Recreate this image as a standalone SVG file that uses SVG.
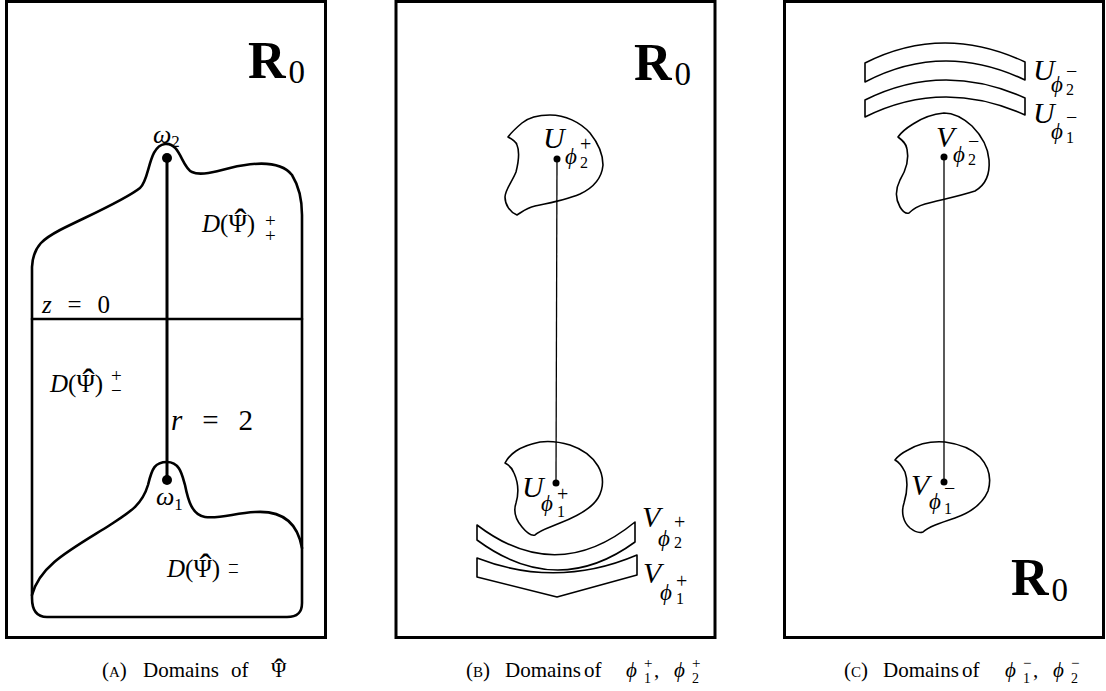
<svg xmlns="http://www.w3.org/2000/svg" width="1106" height="691" viewBox="0 0 1106 691">
<style>
.frame{fill:none;stroke:#000;stroke-width:3}
.thick{fill:none;stroke:#000;stroke-width:2.6;stroke-linejoin:round;stroke-linecap:round}
.thin{fill:none;stroke:#000;stroke-width:1.6;stroke-linejoin:round}
.m{font-family:"Liberation Serif","DejaVu Serif",serif;fill:#000}
.i{font-style:italic}
.R{font-weight:bold;font-size:52px}
.hat{font-size:36px}
.ph{font-style:italic;font-size:23px}
</style>
<rect width="1106" height="691" fill="#fff"/>
<!-- Panel A -->
<g id="panelA">
<rect class="frame" x="6.5" y="1.5" width="319" height="636"/>
<text class="m R" x="248" y="78">R<tspan font-weight="normal" font-size="33" dx="3" dy="5">0</tspan></text>
<g id="domainA">
<path class="thick" d="M302,215 L302,603 C302,613 297,617 287,617 L47,617 C37,617 32,610 32,598 L32,267 C33,245 45,238 60,230 C90,215 125,200 140,188 C150,180 148,146 165,144 C180,142 182,168 192,172 C200,176 215,172 230,168 C255,162 280,160 292,175 C300,188 302,200 302,215 Z"/>
<path class="thick" d="M32,319 L302,319"/>
<path class="thick" d="M32,595 C40,565 70,550 110,525 C130,512 142,505 148,485 C152,468 155,462 167,462 C180,462 182,475 185,485 C188,500 192,515 205,517 C220,519 235,513 255,512 C285,510 298,525 302,548"/>
</g>
<g id="w2"><circle cx="167" cy="158" r="5"/><text class="m" x="153" y="143" font-size="26"><tspan class="i">ω</tspan><tspan font-size="17" dy="4">2</tspan></text></g>
<g id="w1"><circle cx="167" cy="480" r="5"/><text class="m" x="156" y="505" font-size="26"><tspan class="i">ω</tspan><tspan font-size="17" dy="5">1</tspan></text></g>
<text class="m" x="42" y="313" font-size="25" textLength="68" lengthAdjust="spacing"><tspan class="i">z</tspan> = 0</text>
<text class="m" x="171" y="430" font-size="29" textLength="82" lengthAdjust="spacing"><tspan class="i">r</tspan> = 2</text>
<g id="Dpp">
<text class="m" x="202" y="232" font-size="25"><tspan class="i">D</tspan>(Ψ)<tspan class="hat" x="234.5" y="234">ˆ</tspan><tspan font-size="19" x="265" y="227">+</tspan><tspan font-size="19" x="265" y="242">+</tspan></text>
</g>
<g id="Dpm">
<text class="m" x="50" y="392" font-size="25"><tspan class="i">D</tspan>(Ψ)<tspan class="hat" x="82.5" y="394">ˆ</tspan><tspan font-size="19" x="111" y="382">+</tspan><tspan font-size="19" x="111" y="397">−</tspan></text>
</g>
<g id="Dmm">
<text class="m" x="167" y="577" font-size="25"><tspan class="i">D</tspan>(Ψ)<tspan class="hat" x="199.5" y="579">ˆ</tspan><tspan font-size="19" x="228" y="571">−</tspan><tspan font-size="19" x="228" y="579">−</tspan></text>
</g>
</g>
<!-- Panel B -->
<g id="panelB">
<rect class="frame" x="396" y="1.5" width="319" height="636"/>
<text class="m R" x="634" y="80">R<tspan font-weight="normal" font-size="33" dx="3" dy="5">0</tspan></text>
<g id="U2p">
<path class="thin" d="M508,137 C512,139 516,141 517,145 C520,152 519,160 516,172 C512,182 505,190 505,197 C505,205 510,212 517,215 C522,212 526,208 535,206 C550,203 566,200 580,194 C595,187 602,176 603,165 C603,154 598,143 590,133 C580,122 565,115 550,115 C538,115 528,118 522,123 C516,128 511,133 508,137 Z"/>
<circle cx="557" cy="159" r="3.5"/>
<text class="m" x="543" y="148" font-size="30"><tspan class="i">U</tspan><tspan class="ph" x="565" y="164">ϕ</tspan><tspan font-size="16" x="580" y="168">2</tspan><tspan font-size="20" x="580" y="151">+</tspan></text>
</g>
<g id="U1p">
<path class="thin" d="M505,463 C509,465 512,468 514,473 C518,482 519,493 516,503 C513,512 516,520 522,527 C527,533 532,536 535,535 C540,530 548,528 560,523 C578,516 592,508 598,498 C604,488 604,476 598,466 C592,456 582,449 570,445 C560,442 548,441 540,442 C530,444 522,447 516,451 C510,455 507,459 505,463 Z"/>
<circle cx="556" cy="483" r="3.5"/>
<text class="m" x="522" y="497" font-size="30"><tspan class="i">U</tspan><tspan class="ph" x="541" y="511">ϕ</tspan><tspan font-size="16" x="557" y="517">1</tspan><tspan font-size="20" x="557" y="501">+</tspan></text>
</g>
<g id="V2p">
<path class="thin" d="M477,525 Q557,586 635,522 L635,542 Q557,599 477,540 Z"/>
<text class="m" x="642" y="527" font-size="30"><tspan class="i">V</tspan><tspan class="ph" x="658" y="546">ϕ</tspan><tspan font-size="16" x="674" y="548">2</tspan><tspan font-size="20" x="674" y="529">+</tspan></text>
</g>
<g id="V1p">
<path class="thin" d="M477,558 Q557,589 637,555 L637,575 L557,597 L477,577 Z"/>
<text class="m" x="643" y="583" font-size="30"><tspan class="i">V</tspan><tspan class="ph" x="660" y="600">ϕ</tspan><tspan font-size="16" x="676" y="604">1</tspan><tspan font-size="20" x="676" y="588">+</tspan></text>
</g>
</g>
<!-- Panel C -->
<g id="panelC">
<rect class="frame" x="784.5" y="1.5" width="319" height="636"/>
<text class="m R" x="1011" y="595">R<tspan font-weight="normal" font-size="33" dx="3" dy="6">0</tspan></text>
<g id="U2m">
<path class="thin" d="M865,63 Q943,23.5 1025,62 L1025,80 Q943,41 865,82 Z"/>
<text class="m" x="1033" y="80" font-size="30"><tspan class="i">U</tspan><tspan class="ph" x="1051" y="92">ϕ</tspan><tspan font-size="16" x="1066" y="95">2</tspan><tspan font-size="20" x="1066" y="78">−</tspan></text>
</g>
<g id="U1m">
<path class="thin" d="M865,100 Q943,61 1025,98 L1025,115 Q943,78 865,117 Z"/>
<text class="m" x="1033" y="123" font-size="30"><tspan class="i">U</tspan><tspan class="ph" x="1051" y="139">ϕ</tspan><tspan font-size="16" x="1066" y="143">1</tspan><tspan font-size="20" x="1066" y="124">−</tspan></text>
</g>
<g id="V2m">
<path class="thin" d="M898,137 C902,140 906,143 907,149 C909,158 906,170 900,180 C895,190 896,200 900,207 C903,212 906,214 909,213 C913,209 918,206 925,204 C940,200 960,196 975,191 C987,184 990,172 989,160 C988,148 982,136 972,126 C962,117 952,113 944,113 C933,114 922,118 913,124 C905,129 900,134 898,137 Z"/>
<circle cx="944" cy="157" r="3.5"/>
<text class="m" x="936" y="147" font-size="30"><tspan class="i">V</tspan><tspan class="ph" x="953" y="162">ϕ</tspan><tspan font-size="16" x="968" y="165">2</tspan><tspan font-size="20" x="968" y="148">−</tspan></text>
</g>
<g id="V1m">
<path class="thin" d="M895,460 C899,462 902,466 905,472 C908,481 907,493 904,503 C901,512 903,522 910,528 C915,532 920,533 923,532 C928,527 940,523 955,518 C972,512 983,503 988,491 C992,478 988,466 980,457 C972,449 960,444 945,442 C932,441 918,444 908,450 C902,453 898,456 895,460 Z"/>
<circle cx="944" cy="482" r="3.5"/>
<text class="m" x="911" y="495" font-size="30"><tspan class="i">V</tspan><tspan class="ph" x="929" y="509">ϕ</tspan><tspan font-size="16" x="944" y="514">1</tspan><tspan font-size="20" x="944" y="495">−</tspan></text>
</g>
</g>
<!-- connectors -->
<g id="connectors">
<path d="M167,158 L167,480" stroke="#000" stroke-width="3" fill="none"/>
<path d="M557,159 L556,483" stroke="#000" stroke-width="1.3" fill="none"/>
<path d="M944,157 L944,482" stroke="#000" stroke-width="1.3" fill="none"/>
</g>
<!-- captions -->
<g id="captions" class="m" font-size="21">
<text x="102" y="677">(<tspan font-size="15">A</tspan>)<tspan x="143">Domains</tspan><tspan x="231">of</tspan><tspan x="271">Ψ</tspan><tspan font-size="30" x="274" y="679">ˆ</tspan></text>
<text x="466" y="677">(<tspan font-size="15">B</tspan>)<tspan x="505">Domains</tspan><tspan x="584">of</tspan><tspan class="i" x="626">ϕ</tspan><tspan font-size="14" x="644" y="683">1</tspan><tspan font-size="15" x="644" y="668">+</tspan><tspan x="654" y="677">, </tspan><tspan class="i" x="674">ϕ</tspan><tspan font-size="14" x="692" y="683">2</tspan><tspan font-size="15" x="692" y="668">+</tspan></text>
<text x="844" y="677">(<tspan font-size="15">C</tspan>)<tspan x="883">Domains</tspan><tspan x="962">of</tspan><tspan class="i" x="1005">ϕ</tspan><tspan font-size="14" x="1023" y="683">1</tspan><tspan font-size="15" x="1023" y="668">−</tspan><tspan x="1033" y="677">, </tspan><tspan class="i" x="1053">ϕ</tspan><tspan font-size="14" x="1071" y="683">2</tspan><tspan font-size="15" x="1071" y="668">−</tspan></text>
</g>
</svg>
